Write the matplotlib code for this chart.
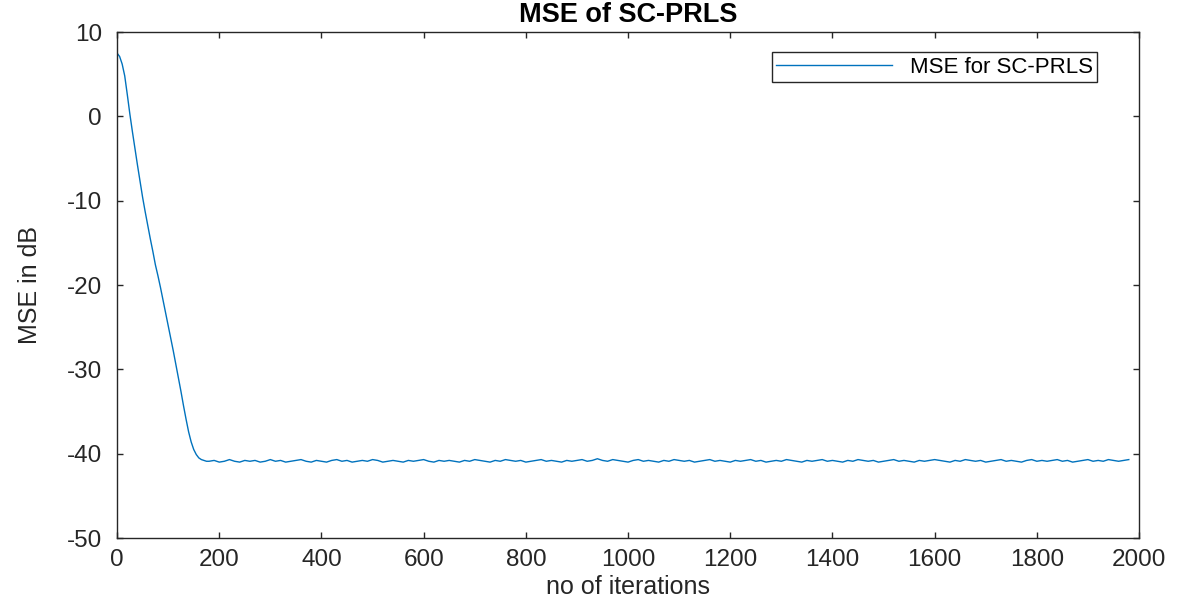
import numpy as np
import matplotlib.pyplot as plt

plt.rcParams['font.family'] = ['Liberation Sans', 'DejaVu Sans']
plt.rcParams['axes.unicode_minus'] = False

# convergence part, every 5 iterations (0 .. 175)
iters_fast = list(range(0, 180, 5))
mse_fast = [7.5, 7.1, 6.2, 4.8, 2.6, 0.3, -1.8, -3.8, -5.8, -7.7,
            -9.6, -11.3, -12.9, -14.5, -16.0, -17.6, -18.9, -20.3, -21.8, -23.3,
            -24.8, -26.3, -27.8, -29.4, -31.0, -32.6, -34.3, -35.9, -37.4, -38.6,
            -39.5, -40.1, -40.5, -40.7, -40.8, -40.9]

# steady state, every 10 iterations (180 .. 1980)
iters_flat = list(range(180, 1990, 10))
mse_flat = [-40.9, -40.8, -41.0, -40.9, -40.7, -40.9, -41.0, -40.8, -40.9, -40.8,
            -41.0, -40.9, -40.7, -40.9, -40.8, -41.0, -40.9, -40.8, -40.7, -40.9,
            -41.0, -40.8, -40.9, -41.0, -40.8, -40.7, -40.9, -40.8, -41.0, -40.9,
            -40.8, -40.9, -40.7, -40.8, -41.0, -40.9, -40.8, -40.9, -41.0, -40.8,
            -40.9, -40.8, -40.7, -40.9, -41.0, -40.8, -40.9, -40.8, -40.9, -41.0,
            -40.8, -40.9, -40.7, -40.8, -40.9, -41.0, -40.8, -40.9, -40.7, -40.8,
            -40.9, -40.8, -41.0, -40.9, -40.8, -40.7, -40.9, -40.8, -40.9, -41.0,
            -40.8, -40.9, -40.8, -40.7, -40.9, -40.8, -40.6, -40.8, -40.9, -40.7,
            -40.8, -40.9, -41.0, -40.8, -40.7, -40.9, -40.8, -40.9, -41.0, -40.8,
            -40.9, -40.7, -40.8, -40.9, -40.8, -41.0, -40.9, -40.8, -40.7, -40.9,
            -40.8, -40.9, -41.0, -40.8, -40.9, -40.8, -40.7, -40.9, -40.8, -41.0,
            -40.9, -40.8, -40.9, -40.7, -40.8, -40.9, -41.0, -40.8, -40.9, -40.8,
            -40.7, -40.9, -40.8, -40.9, -41.0, -40.8, -40.9, -40.7, -40.8, -40.9,
            -40.8, -41.0, -40.9, -40.8, -40.7, -40.9, -40.8, -40.9, -41.0, -40.8,
            -40.9, -40.8, -40.7, -40.8, -40.9, -41.0, -40.8, -40.9, -40.7, -40.8,
            -40.9, -40.8, -41.0, -40.9, -40.8, -40.7, -40.9, -40.8, -40.9, -41.0,
            -40.8, -40.7, -40.9, -40.8, -40.9, -40.8, -40.7, -40.9, -40.8, -41.0,
            -40.9, -40.8, -40.7, -40.9, -40.8, -40.9, -40.7, -40.8, -40.9, -40.8,
            -40.7]

x_ticks = [0, 200, 400, 600, 800, 1000, 1200, 1400, 1600, 1800, 2000]
y_ticks = [-50, -40, -30, -20, -10, 0, 10]

iters = iters_fast + iters_flat
mse = mse_fast + mse_flat

fig = plt.figure(figsize=(11.86, 6.02), dpi=100)
ax = fig.add_axes([0.0987, 0.1063, 0.8617, 0.8405])

ax.plot(iters, mse, color='#0072BD', linewidth=1.0, label='MSE for SC-PRLS')

ax.set_xlim(0, 2000)
ax.set_ylim(-50, 10)
ax.set_xticks(x_ticks)
ax.set_yticks(y_ticks)

frame_col = '#262626'
for s in ax.spines.values():
    s.set_color(frame_col)
    s.set_linewidth(1.0)
ax.tick_params(direction='in', length=4.5, width=1.0, top=True, right=True,
               labelsize=17.5, colors=frame_col)
ax.tick_params(axis='x', pad=8)
ax.tick_params(axis='y', pad=11)

ax.set_xlabel('no of iterations', fontsize=18, color=frame_col, labelpad=3)
ax.set_ylabel('MSE in dB', fontsize=18, color=frame_col, labelpad=18)
ax.set_title('MSE of SC-PRLS', fontsize=19.5, fontweight='bold', color='black', pad=7)

leg = ax.legend(loc='upper right', fontsize=16, handlelength=5.2,
                fancybox=False, framealpha=1, edgecolor=frame_col,
                borderpad=0.2, bbox_to_anchor=(0.970, 0.982))
leg.get_frame().set_linewidth(1.0)

plt.savefig('out.png', dpi=100)
